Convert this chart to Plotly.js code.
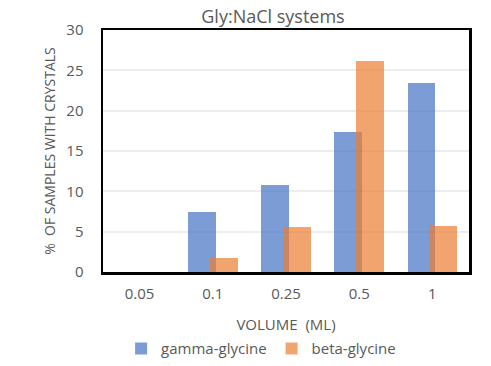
<!DOCTYPE html>
<html><head><meta charset="utf-8">
<script src="https://cdn.plot.ly/plotly-3.0.1.min.js"></script>
<style>html,body{margin:0;padding:0;background:#fff}#chart{width:491px;height:366px}</style>
</head><body><div id="chart"></div>
<script>
const categories = ['0.05', '0.1', '0.25', '0.5', '1'];
const gammaGlycine = [0, 7.4, 10.8, 17.4, 23.4];
const betaGlycine = [0, 1.7, 5.6, 26.2, 5.7];
const seriesNames = ['gamma-glycine', 'beta-glycine'];
const yTicks = [0, 5, 10, 15, 20, 25, 30];

const font = 'Open Sans, Noto Sans, sans-serif';
const grey = '#595959';
const traces = [
  {type:'bar', x:categories, y:gammaGlycine, name:seriesNames[0], width:0.38, offset:-0.34,
   marker:{color:'rgba(68,114,196,0.7)', line:{width:0}}},
  {type:'bar', x:categories, y:betaGlycine, name:seriesNames[1], width:0.38, offset:-0.04,
   marker:{color:'rgba(237,125,49,0.7)', line:{width:0}}}
];
const layout = {
  width:491, height:366,
  margin:{l:103, r:22, t:30, b:94, autoexpand:false},
  paper_bgcolor:'#fff', plot_bgcolor:'#fff',
  barmode:'overlay',
  title:{text:'Gly:NaCl systems', font:{family:font, size:18, color:grey}, x:0.556, xanchor:'center', y:0.955, yanchor:'middle'},
  xaxis:{type:'category', automargin:false, tickfont:{family:font, size:15, color:grey}, ticks:'', showgrid:false,
    showline:true, mirror:true, linecolor:'#000', linewidth:2.5, ticklabelstandoff:6,
    title:{text:'VOLUME  (ML)', font:{family:font, size:15, color:grey}, standoff:18}},
  yaxis:{range:[0,30], automargin:false, tickvals:yTicks, tickfont:{family:font, size:15, color:grey}, ticks:'',
    showgrid:true, gridcolor:'#ededed', gridwidth:2, zeroline:false,
    showline:true, mirror:true, linecolor:'#000', linewidth:2.5, ticklabelstandoff:14,
    title:{text:'%  OF SAMPLES WITH CRYSTALS', font:{family:font, size:14, color:grey}, standoff:8}},
  showlegend:true,
  legend:{orientation:'h', x:0.432, xanchor:'center', y:-0.385, yanchor:'bottom',
    font:{family:font, size:15, color:grey}, itemwidth:30},
  bargap:0
};
Plotly.newPlot('chart', traces, layout, {displayModeBar:false, staticPlot:true});
</script></body></html>
